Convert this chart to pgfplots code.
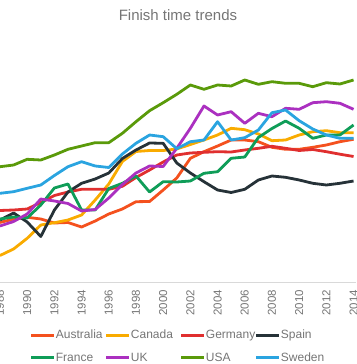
\documentclass[border=0pt]{standalone}
\usepackage{fontspec}
\setmainfont{Liberation Sans}
\usepackage{pgfplots}
\pgfplotsset{compat=1.18}
\definecolor{labgray}{HTML}{757575}
\definecolor{axgray}{HTML}{D9D9D9}
\definecolor{cAus}{HTML}{F4511E}
\definecolor{cCan}{HTML}{F9AB00}
\definecolor{cGer}{HTML}{E02F2F}
\definecolor{cSpa}{HTML}{263238}
\definecolor{cFra}{HTML}{0F9D58}
\definecolor{cUK}{HTML}{AB30C0}
\definecolor{cUSA}{HTML}{5A9A0A}
\definecolor{cSwe}{HTML}{2AA4E0}
\begin{document}
\begin{tikzpicture}
\begin{axis}[
  scale only axis,
  width=356pt, height=282pt,
  xmin=1988, xmax=2014.18,
  ymin=0, ymax=282,
  clip=false,
  axis x line=bottom,
  axis y line=none,
  x axis line style={draw=axgray, line width=0.8pt, -},
  xtick={1988,1990,...,2014},
  ytick=\empty,
  major tick length=0pt,
  /pgf/number format/assume math mode=true,
  xticklabel={\pgfmathprintnumber[1000 sep={}]{\tick}},
  xticklabel style={yshift=-8pt, rotate=90, anchor=east, inner sep=0pt,
    font=\fontsize{11.5}{12}\selectfont, text=labgray},
  every axis plot/.append style={line width=2.8pt, line join=round, no markers},
  legend columns=4,
  legend cell align=left,
  legend image code/.code={\draw[#1, line width=3pt] (0pt,0pt) -- (23pt,0pt);},
  legend style={
    at={(axis cs:1990.2,-48)}, anchor=north west,
    draw=none, fill=none, inner sep=0pt, outer sep=0pt,
    font=\fontsize{12}{14}\selectfont, text=labgray,
    row sep=12.5pt,
    nodes={inner sep=0pt, text width=48pt, align=left},
    /tikz/every even column/.append style={column sep=1pt},
  },
]
\addplot[cAus] coordinates {(1988,59.5)(1989,63)(1990,64.7)(1991,63)(1992,59)(1993,59.5)(1994,55)(1995,61)(1996,68)(1997,73)(1998,80.3)(1999,80.5)(2000,92)(2001,104)(2002,123.7)(2003,130.3)(2004,136)(2005,142)(2006,142)(2007,140.3)(2008,134.7)(2009,132.7)(2010,132.7)(2011,134.7)(2012,137)(2013,140.3)(2014,142.7)};
\addlegendentry{Australia}
\addplot[cCan] coordinates {(1988,26.5)(1989,33)(1990,43.7)(1991,57)(1992,59.3)(1993,62)(1994,67)(1995,82)(1996,98)(1997,120.5)(1998,130.5)(1999,131.5)(2000,131.5)(2001,133)(2002,137.5)(2003,142)(2004,147)(2005,153.7)(2006,152.3)(2007,148)(2008,141.3)(2009,142)(2010,147)(2011,150.3)(2012,151.3)(2013,149.3)(2014,149.3)};
\addlegendentry{Canada}
\addplot[cGer] coordinates {(1988,71.5)(1989,72)(1990,73)(1991,79.5)(1992,86.5)(1993,90)(1994,92.7)(1995,92.7)(1996,92.7)(1997,95.7)(1998,104.5)(1999,112)(2000,120)(2001,127)(2002,129)(2003,129.7)(2004,130.3)(2005,130)(2006,132)(2007,133.7)(2008,135.7)(2009,133.7)(2010,131.5)(2011,132.5)(2012,130.3)(2013,127.8)(2014,125.5)};
\addlegendentry{Germany}
\addplot[cSpa] coordinates {(1988,62)(1989,69)(1990,60)(1991,45.5)(1992,72)(1993,90)(1994,98.7)(1995,103)(1996,109)(1997,123.5)(1998,132)(1999,139)(2000,138.7)(2001,119)(2002,109)(2003,100.3)(2004,92)(2005,89.5)(2006,92.7)(2007,102)(2008,106)(2009,104.7)(2010,102)(2011,98.7)(2012,97)(2013,98.7)(2014,101)};
\addlegendentry{Spain}
\addplot[cFra] coordinates {(1988,63)(1989,65)(1990,64)(1991,77)(1992,94)(1993,98)(1994,72)(1995,72)(1996,93.5)(1997,98.7)(1998,106)(1999,90)(2000,100.3)(2001,100)(2002,101)(2003,108.7)(2004,110.3)(2005,123.7)(2006,125)(2007,144.5)(2008,153.5)(2009,161)(2010,153.7)(2011,143.7)(2012,147)(2013,147)(2014,157)};
\addlegendentry{France}
\addplot[cUK] coordinates {(1988,56)(1989,60.5)(1990,68)(1991,83)(1992,81)(1993,78.5)(1994,71)(1995,72.5)(1996,84)(1997,97.5)(1998,109)(1999,116)(2000,115.5)(2001,133.7)(2002,153.7)(2003,176)(2004,167)(2005,170.3)(2006,158.7)(2007,168.7)(2008,165.3)(2009,173.7)(2010,172.7)(2011,179.3)(2012,180.3)(2013,178.7)(2014,172.7)};
\addlegendentry{UK}
\addplot[cUSA] coordinates {(1988,115.3)(1989,117)(1990,122.7)(1991,122)(1992,127)(1993,132.7)(1994,136)(1995,139.3)(1996,139.3)(1997,148.7)(1998,160.3)(1999,171.3)(2000,179.3)(2001,187.7)(2002,197)(2003,192.7)(2004,197)(2005,196)(2006,202)(2007,197.7)(2008,200.3)(2009,198.7)(2010,198.7)(2011,195.3)(2012,199.3)(2013,198)(2014,202)};
\addlegendentry{USA}
\addplot[cSwe] coordinates {(1988,88.7)(1989,90.3)(1990,93.7)(1991,97)(1992,106.5)(1993,115.3)(1994,120.3)(1995,116)(1996,114.5)(1997,128)(1998,138.7)(1999,147)(2000,145.3)(2001,133.3)(2002,140.3)(2003,142)(2004,160.3)(2005,142)(2006,144.3)(2007,152)(2008,169.3)(2009,172)(2010,161.3)(2011,153)(2012,147)(2013,143.7)(2014,143.7)};
\addlegendentry{Sweden}
\node[font=\fontsize{15}{16}\selectfont, text=labgray] at (rel axis cs:0.5,0) [yshift=267pt] {Finish time trends};
\coordinate (BL) at (axis cs:1988,-82);
\coordinate (TR) at (axis cs:2014.18,282);
\end{axis}
\pgfresetboundingbox
\path (BL) rectangle (TR);
\end{tikzpicture}
\end{document}
